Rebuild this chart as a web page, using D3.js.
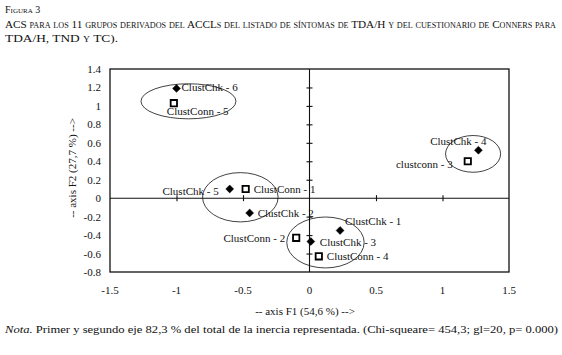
<!DOCTYPE html>
<html>
<head>
<meta charset="utf-8">
<script src="https://cdn.jsdelivr.net/npm/d3@7"></script>
<style>
body { margin: 0; background: #fff; }
svg text { font-family: "Liberation Serif", "DejaVu Serif", serif; fill: #111; }
</style>
</head>
<body>
<script>
// chart data
const w = 562;
const h = 355;

const pointNames = ["ClustChk - 6", "ClustConn - 5", "ClustChk - 5", "ClustConn - 1", "ClustChk - 2",
    "ClustConn - 2", "ClustChk - 1", "ClustChk - 3", "ClustConn - 4", "ClustChk - 4", "clustconn - 3"];
const pointKind = ["chk", "conn", "chk", "conn", "chk", "conn", "chk", "chk", "conn", "chk", "conn"];
const pointF1 = [-1.0, -1.02, -0.6, -0.48, -0.45, -0.1, 0.23, 0.01, 0.07, 1.27, 1.19];
const pointF2 = [1.19, 1.03, 0.1, 0.1, -0.16, -0.43, -0.35, -0.47, -0.63, 0.52, 0.4];

// label offsets (px) from the marker, and text anchor
const labelDx = [5, -7, -11, 8, 8, -11, 5, 9, 8, 8, -15];
const labelDy = [3, 12, 6, 4, 4, 4, -5, 4, 4, -5, 7];
const labelAnchor = ["start", "start", "end", "start", "start", "end", "start", "start", "start", "end", "end"];

// group ellipses: centre and radii in axis units
const ellCx = [-0.91, -0.52, 0.12, 1.23];
const ellCy = [1.05, 0.01, -0.48, 0.48];
const ellRx = [0.357, 0.284, 0.291, 0.207];
const ellRy = [0.19, 0.267, 0.276, 0.199];

const xTicks = [-1.5, -1, -0.5, 0, 0.5, 1, 1.5];
const yTicks = [1.4, 1.2, 1, 0.8, 0.6, 0.4, 0.2, 0, -0.2, -0.4, -0.6, -0.8];

let svg = d3.select("body")
    .append("svg")
    .attr("width", w)
    .attr("height", h)

// heading
svg.append("text").attr("x", 5).attr("y", 13)
    .style("font-size", "10px").style("font-variant", "small-caps")
    .text("Figura 3")
svg.append("text").attr("x", 5).attr("y", 28)
    .style("font-size", "11px").style("font-variant", "small-caps")
    .attr("textLength", 551).attr("lengthAdjust", "spacingAndGlyphs")
    .text("ACS para los 11 grupos derivados del ACCLs del listado de síntomas de TDA/H y del cuestionario de Conners para")
svg.append("text").attr("x", 5).attr("y", 42)
    .style("font-size", "11px").style("font-variant", "small-caps")
    .attr("textLength", 113).attr("lengthAdjust", "spacingAndGlyphs")
    .text("TDA/H, TND y TC).")

const x = d3.scaleLinear().domain([-1.5, 1.5]).range([110, 509]);
const y = d3.scaleLinear().domain([-0.8, 1.4]).range([272, 69]);

// plot frame
svg.append("rect")
    .attr("x", x(-1.5)).attr("y", y(1.4))
    .attr("width", x(1.5) - x(-1.5)).attr("height", y(-0.8) - y(1.4))
    .attr("fill", "none").attr("stroke", "#111").attr("stroke-width", 1.3)

// zero axes through the origin
svg.append("g")
    .attr("transform", "translate(0," + y(0) + ")")
    .call(d3.axisBottom(x).tickValues([-1, -0.5, 0.5, 1]).tickSize(3).tickFormat(""))
    .call(g => g.select(".domain").attr("d", "M" + x(-1.5) + ",0H" + x(1.5)))
    .call(g => g.selectAll(".tick line").attr("y1", -3))
    .call(g => g.selectAll("line,path").attr("stroke", "#111").attr("stroke-width", 1.1))

svg.append("g")
    .attr("transform", "translate(" + x(0) + ",0)")
    .call(d3.axisLeft(y).tickValues(yTicks.filter(v => v !== 0 && v !== 1.4 && v !== -0.8)).tickSize(3).tickFormat(""))
    .call(g => g.select(".domain").attr("d", "M0," + y(1.4) + "V" + y(-0.8)))
    .call(g => g.selectAll(".tick line").attr("x1", 3))
    .call(g => g.selectAll("line,path").attr("stroke", "#111").attr("stroke-width", 1.1))

// tick labels along the frame
svg.append("g").selectAll("text")
    .data(xTicks)
    .enter()
    .append("text")
    .attr("x", d => x(d))
    .attr("y", 294)
    .attr("text-anchor", "middle")
    .style("font-size", "11px")
    .text(d => d)

svg.append("g").selectAll("text")
    .data(yTicks)
    .enter()
    .append("text")
    .attr("x", 101)
    .attr("y", d => y(d) + 4)
    .attr("text-anchor", "end")
    .style("font-size", "11px")
    .text(d => d)

// axis titles
svg.append("text")
    .attr("x", 305).attr("y", 315)
    .attr("text-anchor", "middle")
    .style("font-size", "11px")
    .text("-- axis F1 (54,6 %) -->")

svg.append("text")
    .attr("transform", "translate(76,168) rotate(-90)")
    .attr("text-anchor", "middle")
    .style("font-size", "11px")
    .text("-- axis F2 (27,7 %) -->")

// ellipses
svg.append("g").selectAll("ellipse")
    .data(ellCx)
    .enter()
    .append("ellipse")
    .attr("cx", d => x(d))
    .attr("cy", (d, i) => y(ellCy[i]))
    .attr("rx", (d, i) => x(ellRx[i]) - x(0))
    .attr("ry", (d, i) => y(0) - y(ellRy[i]))
    .attr("fill", "none")
    .attr("stroke", "#111")
    .attr("stroke-width", 0.8)

// markers
const diamond = d3.symbol().type(d3.symbolDiamond2).size(40);
const square = d3.symbol().type(d3.symbolSquare).size(40);

svg.append("g").selectAll("path")
    .data(pointF1)
    .enter()
    .append("path")
    .attr("transform", (d, i) => "translate(" + x(d) + "," + y(pointF2[i]) + ")")
    .attr("d", (d, i) => pointKind[i] === "chk" ? diamond() : square())
    .attr("fill", (d, i) => pointKind[i] === "chk" ? "#000" : "#fff")
    .attr("stroke", "#000")
    .attr("stroke-width", (d, i) => pointKind[i] === "chk" ? 0.5 : 1.8)

svg.append("g").selectAll("text")
    .data(pointNames)
    .enter()
    .append("text")
    .attr("x", (d, i) => x(pointF1[i]) + labelDx[i])
    .attr("y", (d, i) => y(pointF2[i]) + labelDy[i])
    .attr("text-anchor", (d, i) => labelAnchor[i])
    .style("font-size", "11px")
    .text(d => d)

// footnote
const note = svg.append("text")
    .attr("x", 5).attr("y", 333)
    .style("font-size", "11px")
    .attr("textLength", 553).attr("lengthAdjust", "spacingAndGlyphs")
note.append("tspan").style("font-style", "italic").text("Nota.")
note.append("tspan").text(" Primer y segundo eje 82,3 % del total de la inercia representada. (Chi-squeare= 454,3; gl=20, p= 0.000)")
</script>
</body>
</html>
